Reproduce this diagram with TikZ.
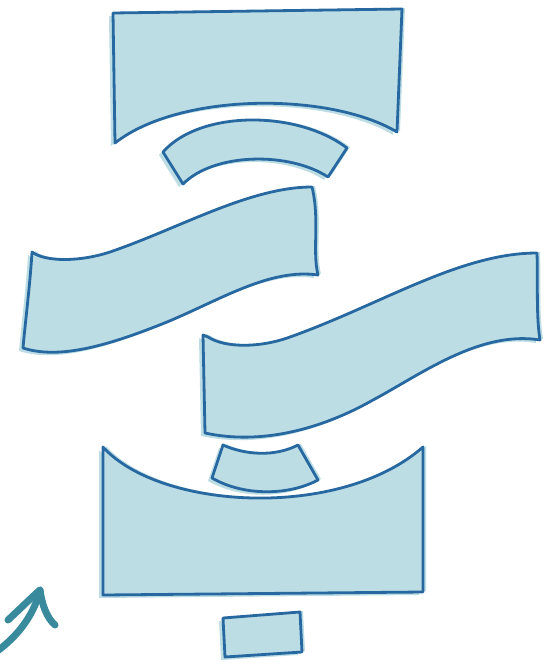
\documentclass[tikz,border=0pt]{standalone}
\begin{document}
\begin{tikzpicture}[x=1pt,y=-1pt,
  wash/.style={fill=washc},
  ink/.style={draw=inkc, line width=2.8pt, line join=round, line cap=round},
  arrowink/.style={draw=arrowc, line width=7pt, line cap=round, line join=round}]
\definecolor{washc}{RGB}{188,221,228}
\definecolor{inkc}{RGB}{40,104,160}
\definecolor{arrowc}{RGB}{58,138,158}
\useasboundingbox (0,0) rectangle (551,664);
\def\shapeA{(113,13) -- (402,9) -- (397,132) .. controls (330,92) and (180,92) .. (115,143) -- cycle}
\def\shapeB{(163,152) .. controls (200,110) and (297,110) .. (347,148) -- (328,177) .. controls (290,152) and (215,152) .. (183,184) -- cycle}
\def\shapeC{(32,252) .. controls (45,262) and (80,262) .. (110,252) .. controls (180,228) and (250,187) .. (312,187) .. controls (320,220) and (312,250) .. (318,275) .. controls (270,268) and (220,300) .. (167,322) .. controls (110,345) and (60,360) .. (23,348) .. controls (26,315) and (30,285) .. (32,252) -- cycle}
\def\shapeD{(208,337) .. controls (225,348) and (260,348) .. (290,337) .. controls (380,305) and (460,253) .. (537,253) .. controls (538,285) and (536,315) .. (540,340) .. controls (480,330) and (420,375) .. (373,400) .. controls (320,430) and (260,445) .. (205,433) -- (203,335) -- cycle}
\def\shapeE{(223,445) .. controls (245,455) and (275,457) .. (298,445) -- (318,480) .. controls (290,495) and (245,497) .. (212,478) -- cycle}
\def\shapeF{(103,447) .. controls (160,510) and (340,520) .. (423,447) -- (423,592) -- (103,595) -- cycle}
\def\shapeG{(223,618) -- (300,612) -- (302,652) -- (225,657) -- cycle}
% washes slightly offset
\foreach \s in {\shapeA,\shapeB,\shapeC,\shapeD,\shapeE,\shapeF,\shapeG}{
  \fill[wash, shift={(-4,3)}] \s;
  \fill[wash, shift={(3,-1)}] \s;
}
% main shapes
\path[wash, ink] \shapeA;
\path[wash, ink] \shapeB;
\path[wash, ink] \shapeC;
\path[wash, ink] \shapeD;
\path[wash, ink] \shapeE;
\path[wash, ink] \shapeF;
\path[wash, ink] \shapeG;
% arrow
\coordinate (tail) at (-4,652);
\coordinate (tip) at (40,590);
\coordinate (lb) at (8,620);
\coordinate (rb) at (55,625);
\draw[arrowink] (tail) .. controls (18,636) and (34,615) .. (tip);
\draw[arrowink] (lb) .. controls (22,607) and (32,597) .. (tip) .. controls (42,605) and (47,618) .. (rb);
\end{tikzpicture}
\end{document}
